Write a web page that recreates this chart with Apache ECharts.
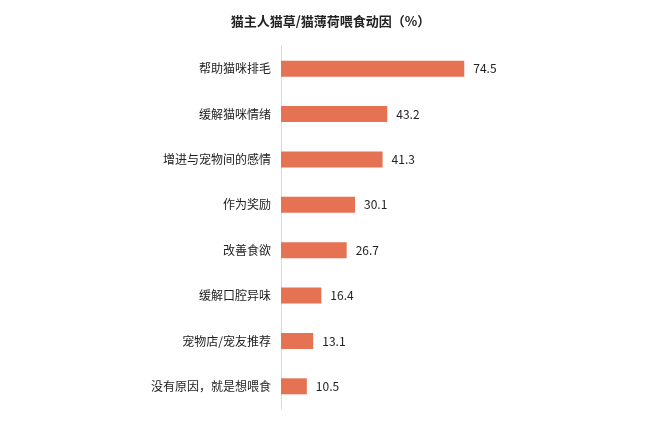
<!DOCTYPE html>
<html><head><meta charset="utf-8">
<script src="https://cdn.jsdelivr.net/npm/echarts@6/dist/echarts.min.js"></script>
<style>html,body{margin:0;padding:0;background:#fff}#c{width:661px;height:441px}</style>
</head><body><div id="c"></div>
<script>
var categories = ['帮助猫咪排毛','缓解猫咪情绪','增进与宠物间的感情','作为奖励','改善食欲','缓解口腔异味','宠物店/宠友推荐','没有原因，就是想喂食'];
var values = [74.5, 43.2, 41.3, 30.1, 26.7, 16.4, 13.1, 10.5];
var chart = echarts.init(document.getElementById('c'));
chart.setOption({
  backgroundColor: '#fff',
  animation: false,
  title: {
    text: '猫主人猫草/猫薄荷喂食动因（%）',
    left: 'center', top: 10,
    textStyle: {fontFamily: 'Noto Sans CJK SC', fontSize: 13, fontWeight: 'bold', color: '#222'}
  },
  grid: {left: 281, top: 46, right: 134, bottom: 32},
  xAxis: {
    type: 'value', min: 0, max: 100, show: false
  },
  yAxis: {
    type: 'category', inverse: true, data: categories,
    axisLine: {show: true, lineStyle: {color: '#d9d9d9', width: 1}},
    axisTick: {show: false},
    axisLabel: {fontFamily: 'Noto Sans CJK SC', fontSize: 12, color: '#222', margin: 10}
  },
  series: [{
    type: 'bar', data: values, barWidth: 16,
    itemStyle: {color: '#E57253'},
    label: {show: true, position: 'right', distance: 9, fontFamily: 'Noto Sans CJK SC', fontSize: 12, color: '#222',
      formatter: function(p){return p.value.toFixed(1);}}
  }]
});
</script></body></html>
